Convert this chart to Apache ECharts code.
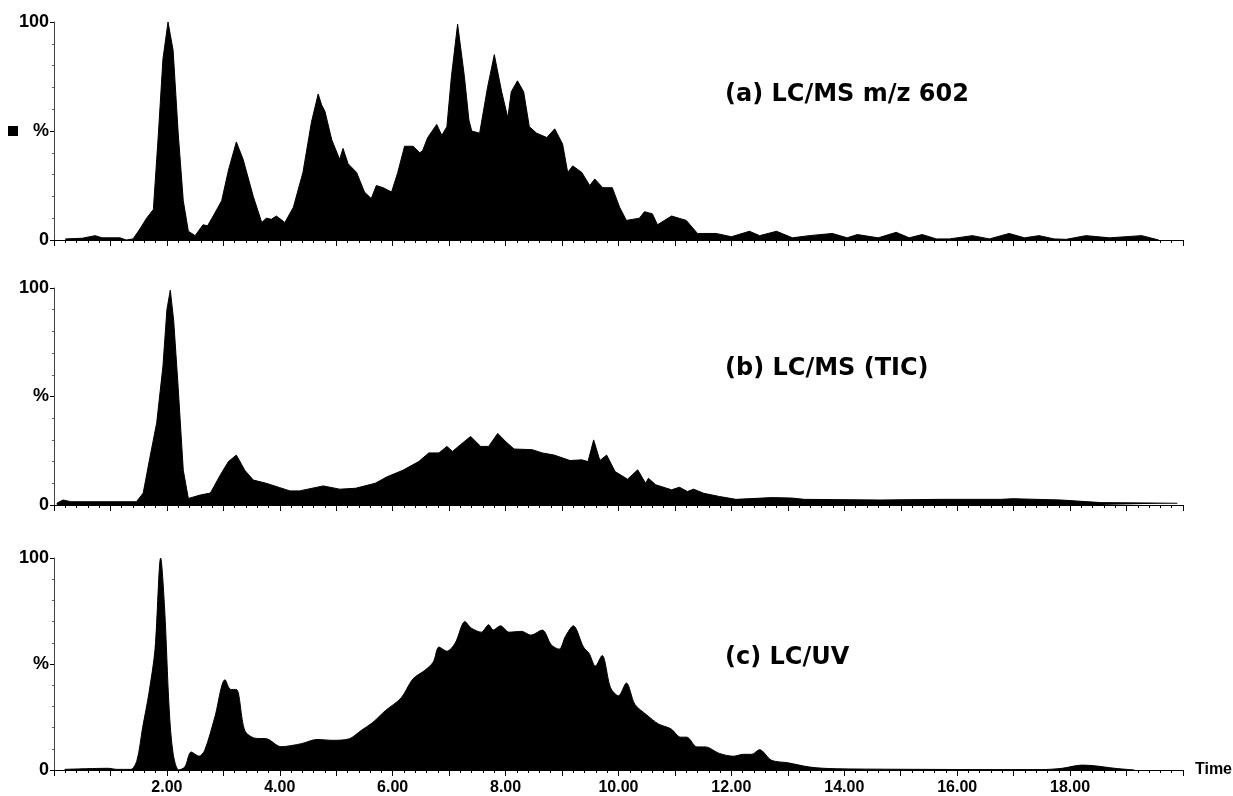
<!DOCTYPE html>
<html>
<head>
<meta charset="utf-8">
<script src="https://cdn.jsdelivr.net/npm/echarts@6/dist/echarts.min.js"></script>
<style>
  html, body { margin: 0; padding: 0; background: #fff; }
  #chart { width: 1233px; height: 796px; }
</style>
</head>
<body>
<div id="chart"></div>
<script>
// retention time (min) and relative intensity (%) for each trace
var timeA = [0.2, 0.5, 0.73, 0.85, 1.17, 1.28, 1.4, 1.52, 1.64, 1.76, 1.85, 1.93, 2.02, 2.11, 2.2, 2.29, 2.38, 2.5, 2.64, 2.72, 2.82, 2.97, 3.09, 3.23, 3.35, 3.53, 3.68, 3.76, 3.85, 3.94, 4.09, 4.24, 4.41, 4.56, 4.68, 4.74, 4.8, 4.92, 5.06, 5.12, 5.21, 5.36, 5.5, 5.62, 5.71, 5.83, 5.98, 6.09, 6.21, 6.36, 6.48, 6.53, 6.62, 6.7, 6.78, 6.87, 6.96, 7.04, 7.15, 7.27, 7.35, 7.4, 7.54, 7.68, 7.8, 7.93, 8.04, 8.1, 8.21, 8.32, 8.42, 8.55, 8.73, 8.87, 9.01, 9.1, 9.19, 9.35, 9.49, 9.58, 9.72, 9.89, 10.02, 10.14, 10.37, 10.46, 10.6, 10.69, 10.94, 11.2, 11.4, 11.73, 12.0, 12.32, 12.5, 12.8, 13.08, 13.38, 13.79, 14.05, 14.23, 14.6, 14.92, 15.15, 15.38, 15.63, 15.86, 16.27, 16.57, 16.92, 17.19, 17.45, 17.72, 17.93, 18.28, 18.7, 19.27, 19.57];
var valA  = [0.5, 0.8, 2, 1, 1, 0, 0.5, 5, 10, 14, 49, 83, 100, 87, 49, 18, 4, 2, 7, 6.5, 11, 18, 32, 45, 37, 20, 8, 10, 9.5, 11, 8, 15, 31, 54, 67, 62, 59, 46, 37, 42, 35, 31, 22, 19, 25, 24, 22, 31, 43, 43, 40, 41, 47, 50, 53, 48, 52, 75, 99, 75, 55, 50, 49, 70, 85, 68, 56, 68, 73, 68, 52, 49, 47, 51, 44, 31, 34, 31, 25, 28, 24, 24, 15, 9, 10, 13, 12, 7, 11, 9, 3, 3, 1.5, 4, 2, 4, 1, 2, 3, 1, 2.5, 1, 3.5, 1, 2.5, 0.5, 0.5, 2, 0.5, 3, 1, 2, 0.5, 0.3, 2, 1, 2, 0];

var timeB = [0.05, 0.16, 0.3, 1.46, 1.58, 1.7, 1.82, 1.93, 2.0, 2.06, 2.12, 2.2, 2.29, 2.38, 2.59, 2.77, 2.95, 3.09, 3.23, 3.38, 3.53, 3.76, 4.0, 4.18, 4.35, 4.77, 5.06, 5.34, 5.69, 5.9, 6.18, 6.46, 6.64, 6.82, 6.96, 7.06, 7.2, 7.38, 7.56, 7.7, 7.86, 8.01, 8.15, 8.47, 8.65, 8.86, 9.14, 9.35, 9.46, 9.56, 9.67, 9.79, 9.94, 10.16, 10.34, 10.48, 10.53, 10.66, 10.94, 11.08, 11.22, 11.33, 11.51, 11.79, 12.08, 12.72, 13.07, 13.29, 14.64, 15.7, 16.77, 16.99, 17.84, 18.55, 19.9];
var valB  = [0.8, 2.3, 1.5, 1.5, 5.5, 22, 38, 64, 90, 99, 85, 54, 16, 3, 4.6, 5.5, 14, 20, 23, 16, 11.5, 10, 8, 6.5, 6.5, 8.8, 7.3, 7.7, 10, 13, 16, 20, 24, 24, 27, 24.7, 27.8, 31.6, 27, 27, 33, 29, 25.8, 25.5, 24, 23, 20.5, 20.8, 20, 30, 20.5, 23, 15.4, 11.9, 16.2, 10, 12.3, 9.3, 7, 8.2, 6.2, 7.3, 5.4, 3.9, 2.6, 3.4, 3.2, 2.6, 2.3, 2.6, 2.6, 2.9, 2.3, 1.1, 0.8];

var timeC = [0.19, 0.97, 1.1, 1.36, 1.47, 1.57, 1.68, 1.79, 1.89, 1.96, 2.04, 2.11, 2.21, 2.32, 2.43, 2.57, 2.67, 2.85, 3.03, 3.13, 3.23, 3.38, 3.56, 3.77, 4.02, 4.38, 4.66, 4.94, 5.23, 5.44, 5.65, 5.87, 6.15, 6.36, 6.57, 6.72, 6.82, 6.96, 7.11, 7.28, 7.39, 7.57, 7.7, 7.78, 7.91, 8.06, 8.28, 8.45, 8.65, 8.81, 8.95, 9.06, 9.2, 9.38, 9.48, 9.59, 9.71, 9.86, 10.0, 10.14, 10.29, 10.5, 10.71, 10.93, 11.1, 11.21, 11.39, 11.54, 11.79, 12.04, 12.21, 12.36, 12.5, 12.71, 13.0, 13.36, 13.64, 14.07, 15.36, 16.8, 17.5, 17.86, 18.21, 18.43, 18.79, 19.14];
var valC  = [0.3, 0.8, 0.3, 0.3, 4.6, 20, 36, 57, 100, 76, 29, 7.8, 0, 1.5, 8.5, 6.5, 9.3, 25, 42.6, 38, 38, 18.6, 15, 14.7, 11, 12.4, 14.4, 14, 14.7, 18.6, 22.5, 28, 34, 43, 47, 51, 58, 56, 60, 70, 67, 65, 68.5, 66, 68, 65, 65.4, 63.6, 66, 59, 57, 63, 68, 58, 55, 49, 54, 38.8, 35, 41, 31, 26, 21.7, 19.4, 15.5, 15.5, 10.9, 10.9, 7.8, 6.5, 7.4, 7.4, 9.6, 4.6, 3.4, 1.5, 0.8, 0.5, 0.3, 0.2, 0.2, 0.8, 2.3, 2, 0.8, 0];

var panelTitles = ['(a) LC/MS m/z 602', '(b) LC/MS (TIC)', '(c) LC/UV'];
var xTickLabels = [2, 4, 6, 8, 10, 12, 14, 16, 18];

var chart = echarts.init(document.getElementById('chart'));

function pairs(t, v) {
  return t.map(function (x, i) { return [x, v[i]]; });
}

var grids = [
  { left: 54, top: 22, width: 1129, height: 218 },
  { left: 54, top: 288, width: 1129, height: 217 },
  { left: 54, top: 558, width: 1129, height: 212 }
];
var titleTops = [78, 352, 641];
var traces = [pairs(timeA, valA), pairs(timeB, valB), pairs(timeC, valC)];

var xAxes = [], yAxes = [], series = [], titles = [];
for (var i = 0; i < 3; i++) {
  var last = i === 2;
  xAxes.push({
    type: 'value', gridIndex: i, min: 0, max: 20, interval: 1,
    name: last ? 'Time' : '',
    nameLocation: 'end', nameGap: 12,
    nameTextStyle: { color: '#000', fontSize: 16, fontWeight: 'bold', fontFamily: 'Liberation Sans', verticalAlign: 'middle' },
    axisLine: { lineStyle: { color: '#000', width: 1 } },
    axisTick: { show: true, inside: false, length: 6, lineStyle: { color: '#000' } },
    minorTick: { show: true, splitNumber: 5, length: 3, lineStyle: { color: '#000' } },
    splitLine: { show: false },
    axisLabel: {
      show: last, margin: 10, color: '#000', fontSize: 16, fontWeight: 'bold', fontFamily: 'Liberation Sans',
      formatter: function (v) { return xTickLabels.indexOf(v) >= 0 ? v.toFixed(2) : ''; }
    }
  });
  yAxes.push({
    type: 'value', gridIndex: i, min: 0, max: 100, interval: 50,
    axisLine: { show: true, lineStyle: { color: '#444', width: 1 } },
    axisTick: { show: true, length: 4, lineStyle: { color: '#000' } },
    minorTick: { show: true, splitNumber: 5, length: 2, lineStyle: { color: '#666' } },
    splitLine: { show: false },
    axisLabel: {
      margin: 5, color: '#000', fontSize: 18, fontWeight: 'bold', fontFamily: 'Liberation Sans',
      formatter: (function (k) {
        return function (v) {
          if (v === 100) return '100';
          if (v === 0) return '0';
          return k === 0 ? '{sq|}   %' : '%';
        };
      })(i),
      rich: { sq: { backgroundColor: '#000', width: 10, height: 10 } }
    }
  });
  series.push({
    type: 'line', xAxisIndex: i, yAxisIndex: i, data: traces[i],
    showSymbol: false, symbol: 'none', smooth: i === 2 ? 0.3 : false,
    lineStyle: { color: '#000', width: 1 },
    areaStyle: { color: '#000', opacity: 1 },
    animation: false
  });
  titles.push({
    text: panelTitles[i], left: 720, top: titleTops[i],
    textStyle: { color: '#000', fontSize: 24, fontWeight: 'bold', fontFamily: 'DejaVu Sans' }
  });
}

chart.setOption({
  backgroundColor: '#fff',
  animation: false,
  title: titles,
  grid: grids,
  xAxis: xAxes,
  yAxis: yAxes,
  series: series
});
</script>
</body>
</html>
